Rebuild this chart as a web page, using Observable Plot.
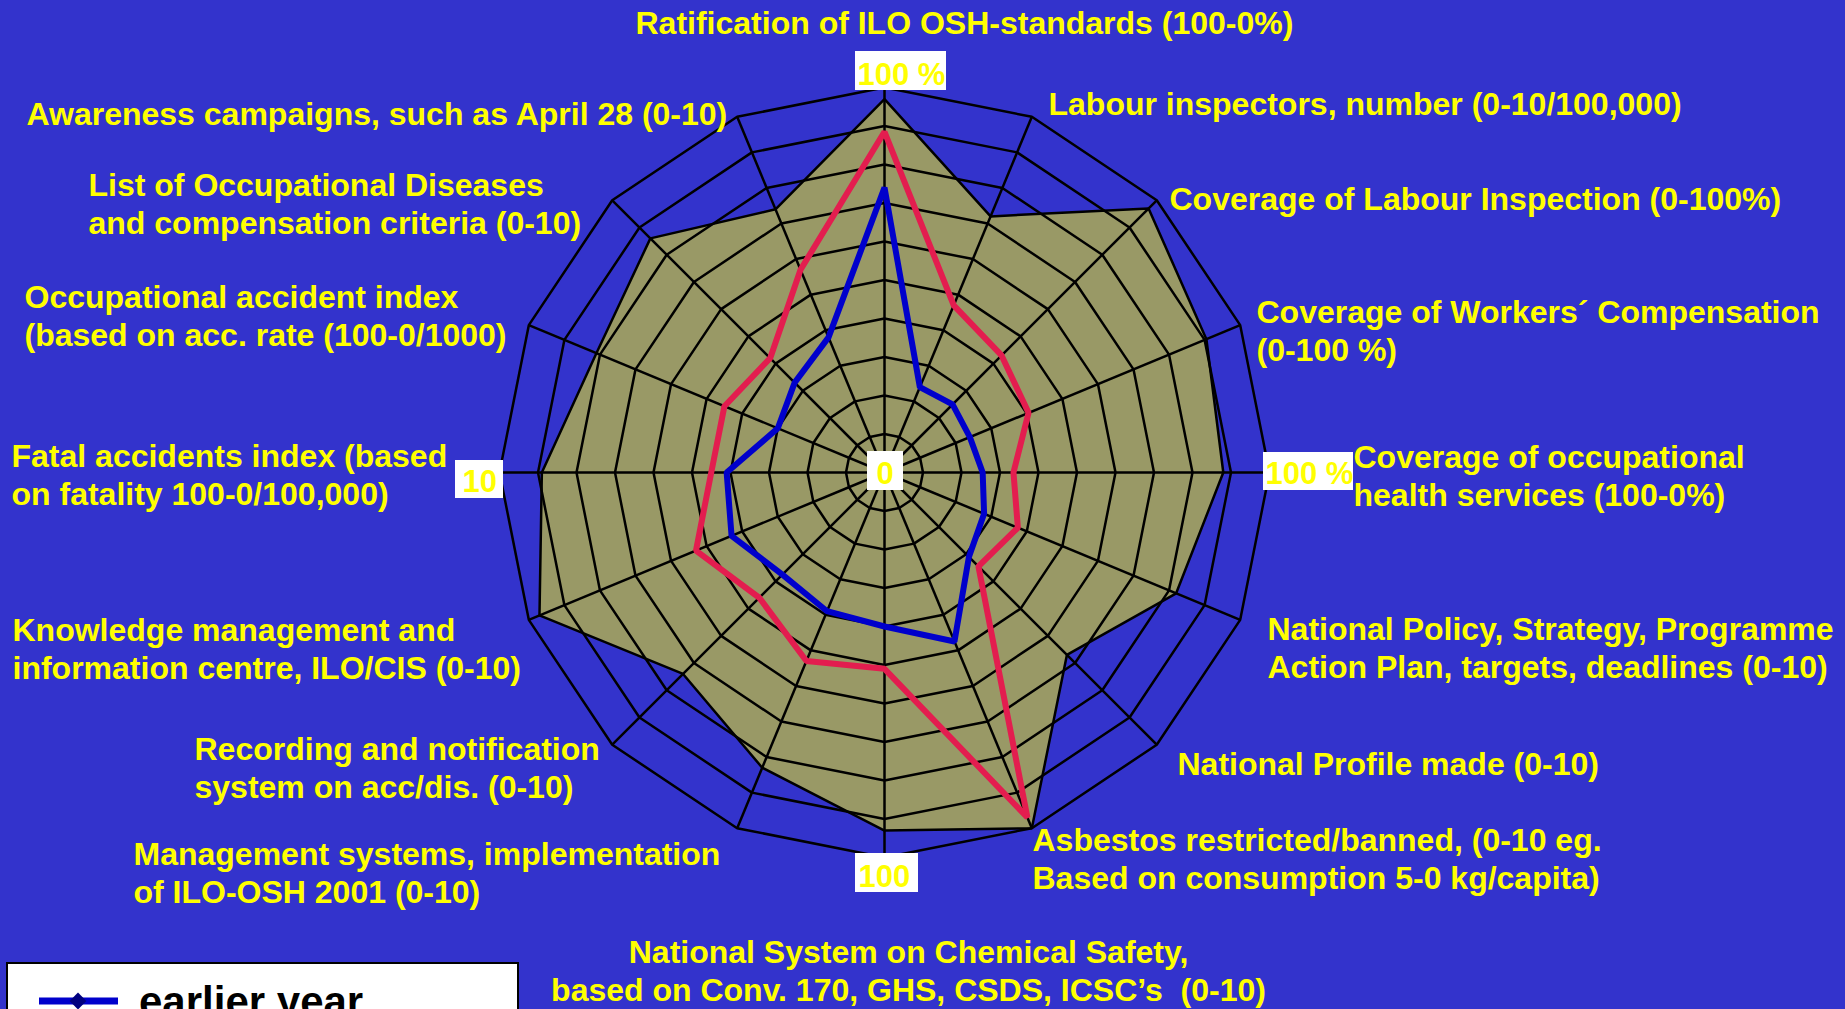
<!DOCTYPE html>
<html><head><meta charset="utf-8">
<script src="https://cdn.jsdelivr.net/npm/d3@7"></script>
<script src="https://cdn.jsdelivr.net/npm/@observablehq/plot@0.6"></script>
<style>
html,body{margin:0;padding:0;background:#3333CC;overflow:hidden;width:1845px;height:1009px;}
#chart{position:absolute;left:0;top:0;}
#legend{position:absolute;left:6px;top:962px;width:513px;height:90px;background:#fff;border:2px solid #000;box-sizing:border-box;font-family:"Liberation Sans",Arial,sans-serif;}
</style></head><body><div id="chart"></div><div id="legend"></div>
<script>
// ---- data ----
const axisNames = [
  "Ratification of ILO OSH-standards (100-0%)",
  "Labour inspectors, number (0-10/100,000)",
  "Coverage of Labour Inspection (0-100%)",
  "Coverage of Workers´ Compensation (0-100 %)",
  "Coverage of occupational health services (100-0%)",
  "National Policy, Strategy, Programme Action Plan, targets, deadlines (0-10)",
  "National Profile made (0-10)",
  "Asbestos restricted/banned, (0-10 eg. Based on consumption 5-0 kg/capita)",
  "National System on Chemical Safety, based on Conv. 170, GHS, CSDS, ICSC’s  (0-10)",
  "Management systems, implementation of ILO-OSH 2001 (0-10)",
  "Recording and notification system on acc/dis. (0-10)",
  "Knowledge management and information centre, ILO/CIS (0-10)",
  "Fatal accidents index (based on fatality 100-0/100,000)",
  "Occupational accident index (based on acc. rate (100-0/1000)",
  "List of Occupational Diseases and compensation criteria (0-10)",
  "Awareness campaigns, such as April 28 (0-10)"
];
const earlierYear = [7.4, 2.4, 2.5, 2.4, 2.55, 2.8, 3.1, 4.75, 4.0, 3.9, 3.75, 4.3, 4.1, 3.0, 3.3, 3.8];
const laterYear   = [8.85, 4.7, 4.3, 4.05, 3.35, 3.75, 3.45, 9.7, 5.1, 5.3, 4.6, 5.3, 4.5, 4.5, 4.2, 5.7];
const benchmark   = [9.7, 7.2, 9.7, 9.05, 8.8, 8.2, 6.7, 10, 9.3, 8.3, 7.4, 9.7, 8.9, 8.1, 8.6, 7.4];
const ringLevels  = [1, 2, 3, 4, 5, 6, 7, 8, 9, 10];
const tickTexts   = ["100 %", "100 %", "100", "10", "0"];
const legendText  = "earlier year";

// label lines (text only)
const labelLines = [
  ["Ratification of ILO OSH-standards (100-0%)"],
  ["Labour inspectors, number (0-10/100,000)"],
  ["Coverage of Labour Inspection (0-100%)"],
  ["Coverage of Workers´ Compensation", "(0-100 %)"],
  ["Coverage of occupational", "health services (100-0%)"],
  ["National Policy, Strategy, Programme", "Action Plan, targets, deadlines (0-10)"],
  ["National Profile made (0-10)"],
  ["Asbestos restricted/banned, (0-10 eg.", "Based on consumption 5-0 kg/capita)"],
  ["National System on Chemical Safety,", "based on Conv. 170, GHS, CSDS, ICSC’s  (0-10)"],
  ["Management systems, implementation", "of ILO-OSH 2001 (0-10)"],
  ["Recording and notification", "system on acc/dis. (0-10)"],
  ["Knowledge management and", "information centre, ILO/CIS (0-10)"],
  ["Fatal accidents index (based", "on fatality 100-0/100,000)"],
  ["Occupational accident index", "(based on acc. rate (100-0/1000)"],
  ["List of Occupational Diseases", "and compensation criteria (0-10)"],
  ["Awareness campaigns, such as April 28 (0-10)"]
];

// ---- layout (pixels) ----
const W = 1845, H = 1009, CX = 884, CY = 472, UNIT = 38.5, LINE_GAP = 38;
const labelLayout = [
  {x: 635, y: 33, a: "start"},
  {x: 1048, y: 114, a: "start"},
  {x: 1169, y: 209, a: "start"},
  {x: 1256, y: 322, a: "start"},
  {x: 1353, y: 467, a: "start"},
  {x: 1267, y: 639, a: "start"},
  {x: 1177, y: 774, a: "start"},
  {x: 1032, y: 850, a: "start"},
  {x: 908, y: 962, a: "middle"},
  {x: 133, y: 864, a: "start"},
  {x: 194, y: 759, a: "start"},
  {x: 12, y: 640, a: "start"},
  {x: 11, y: 466, a: "start"},
  {x: 24, y: 307, a: "start"},
  {x: 88, y: 195, a: "start"},
  {x: 26, y: 124, a: "start"}
];
const tickLayout = [
  {x: 857, y: 84, box: [855, 51, 946, 90]},
  {x: 1265, y: 483, box: [1263, 452, 1353, 490]},
  {x: 858, y: 886, box: [855, 853, 918, 892]},
  {x: 462, y: 491, box: [455, 460, 503, 498]},
  {x: 876, y: 483, box: [867, 451, 903, 490]}
];

const px2x = p => (p - CX) / UNIT;
const px2y = p => (CY - p) / UNIT;
const N = axisNames.length;
const ang = i => i * 2 * Math.PI / N;
const polar = (v, i) => ({x: v * Math.sin(ang(i)), y: v * Math.cos(ang(i))});

const pts = (vals, name) => vals.map((v, i) => ({series: name, axis: axisNames[i], value: v, ...polar(v, i)}));
const ringPts = ringLevels.flatMap(r => axisNames.map((_, i) => ({ring: r, ...polar(r, i)})));
const spokes = axisNames.map((_, i) => ({axis: axisNames[i], ...polar(ringLevels[ringLevels.length - 1], i)}));

const labelRows = labelLines.flatMap((lines, k) => lines.map((t, j) => ({
  text: t, x: px2x(labelLayout[k].x), y: px2y(labelLayout[k].y + j * LINE_GAP), a: labelLayout[k].a
})));
const tickRows = tickTexts.map((t, k) => ({text: t, x: px2x(tickLayout[k].x), y: px2y(tickLayout[k].y),
  x1: px2x(tickLayout[k].box[0]), y1: px2y(tickLayout[k].box[1]), x2: px2x(tickLayout[k].box[2]), y2: px2y(tickLayout[k].box[3])}));

const FONT = "Liberation Sans, Arial, Helvetica, sans-serif";

const chart = Plot.plot({
  width: W, height: H,
  margin: 0,
  x: {domain: [px2x(0), px2x(W)], axis: null},
  y: {domain: [px2y(H), px2y(0)], axis: null},
  style: {background: "#3333CC", overflow: "visible"},
  marks: [
    Plot.line(pts(benchmark, "benchmark"), {x: "x", y: "y", curve: "linear-closed", fill: "#999966", stroke: "#000", strokeWidth: 2.5, strokeLinejoin: "miter"}),
    Plot.line(ringPts, {x: "x", y: "y", z: "ring", curve: "linear-closed", stroke: "#000", strokeWidth: 2.5, fill: "none", strokeLinejoin: "miter"}),
    Plot.link(spokes, {x1: () => 0, y1: () => 0, x2: "x", y2: "y", stroke: "#000", strokeWidth: 2.5}),
    Plot.line(pts(laterYear, "later year"), {x: "x", y: "y", curve: "linear-closed", stroke: "#E31D4F", strokeWidth: 6, strokeLinejoin: "miter"}),
    Plot.line(pts(earlierYear, "earlier year"), {x: "x", y: "y", curve: "linear-closed", stroke: "#0000CC", strokeWidth: 6, strokeLinejoin: "miter"}),
    Plot.rect(tickRows, {x1: "x1", x2: "x2", y1: "y1", y2: "y2", fill: "#fff"}),
    Plot.text(tickRows, {x: "x", y: "y", text: "text", textAnchor: "start", lineAnchor: "bottom", fill: "#FFFF00", fontSize: 31, fontWeight: "bold", fontFamily: FONT}),
    Plot.text(labelRows.filter(d => d.a === "start"), {x: "x", y: "y", text: "text", textAnchor: "start", lineAnchor: "bottom", fill: "#FFFF00", fontSize: 32, fontWeight: "bold", fontFamily: FONT}),
    Plot.text(labelRows.filter(d => d.a === "middle"), {x: "x", y: "y", text: "text", textAnchor: "middle", lineAnchor: "bottom", fill: "#FFFF00", fontSize: 32, fontWeight: "bold", fontFamily: FONT})
  ]
});
document.getElementById("chart").appendChild(chart);

// legend
const lg = d3.select("#legend").append("svg").attr("width", 509).attr("height", 86).style("display", "block");
lg.append("line").attr("x1", 31).attr("x2", 110).attr("y1", 37).attr("y2", 37).attr("stroke", "#0000CC").attr("stroke-width", 7);
lg.append("path").attr("d", d3.symbol(d3.symbolDiamond2, 180)()).attr("transform", "translate(70,37)").attr("fill", "#000080");
lg.append("text").attr("x", 131).attr("y", 52).text(legendText).attr("font-family", FONT).attr("font-weight", "bold").attr("font-size", 42).attr("fill", "#000");
</script>
</body></html>
